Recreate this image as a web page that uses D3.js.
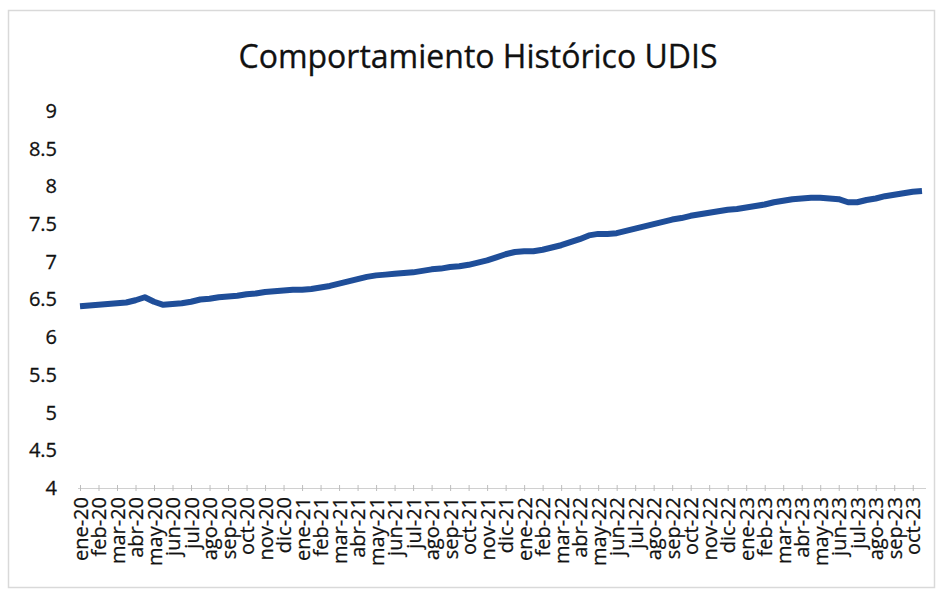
<!DOCTYPE html>
<html>
<head>
<meta charset="utf-8">
<script src="https://cdn.jsdelivr.net/npm/d3@7"></script>
<style>
  body { margin: 0; background: #fff; }
  text { font-family: "Open Sans", sans-serif; }
</style>
</head>
<body>
<div id="chart"></div>
<script>
// etiquetas del eje x (una por mes)
var meses = ["ene-20","feb-20","mar-20","abr-20","may-20","jun-20","jul-20","ago-20","sep-20","oct-20","nov-20","dic-20",
  "ene-21","feb-21","mar-21","abr-21","may-21","jun-21","jul-21","ago-21","sep-21","oct-21","nov-21","dic-21",
  "ene-22","feb-22","mar-22","abr-22","may-22","jun-22","jul-22","ago-22","sep-22","oct-22","nov-22","dic-22",
  "ene-23","feb-23","mar-23","abr-23","may-23","jun-23","jul-23","ago-23","sep-23","oct-23"];

// valor UDI quincenal (2 por mes)
var udis = [
  6.41, 6.42, 6.43, 6.44, 6.45, 6.46, 6.49, 6.53, 6.47, 6.43, 6.44, 6.45,
  6.47, 6.50, 6.51, 6.53, 6.54, 6.55, 6.57, 6.58, 6.60, 6.61, 6.62, 6.63,
  6.63, 6.64, 6.66, 6.68, 6.71, 6.74, 6.77, 6.80, 6.82, 6.83, 6.84, 6.85,
  6.86, 6.88, 6.90, 6.91, 6.93, 6.94, 6.96, 6.99, 7.02, 7.06, 7.10, 7.13,
  7.14, 7.14, 7.16, 7.19, 7.22, 7.26, 7.30, 7.35, 7.37, 7.37, 7.38, 7.41,
  7.44, 7.47, 7.50, 7.53, 7.56, 7.58, 7.61, 7.63, 7.65, 7.67, 7.69, 7.70,
  7.72, 7.74, 7.76, 7.79, 7.81, 7.83, 7.84, 7.85, 7.85, 7.84, 7.83, 7.79,
  7.79, 7.82, 7.84, 7.87, 7.89, 7.91, 7.93, 7.94
];

// ticks del eje y
var yTicks = [4, 4.5, 5, 5.5, 6, 6.5, 7, 7.5, 8, 8.5, 9];

var titulo = "Comportamiento Histórico UDIS";

var svgWidth = 941;
var svgHeight = 593;

var svg = d3.select("#chart")
  .append("svg")
  .attr("width", svgWidth)
  .attr("height", svgHeight);

// marco del grafico
svg.append("rect")
  .attr("x", 8.5)
  .attr("y", 10.5)
  .attr("width", 926)
  .attr("height", 577)
  .attr("fill", "#fff")
  .attr("stroke", "#d9d9d9")
  .attr("stroke-width", 1.5);

// titulo
svg.append("text")
  .attr("x", 478)
  .attr("y", 68)
  .attr("text-anchor", "middle")
  .attr("font-size", 32)
  .attr("fill", "#111")
  .attr("stroke", "#111")
  .attr("stroke-width", 0.3)
  .text(titulo);

// escalas
var xScale = d3.scaleLinear()
  .domain([0, (udis.length - 1) / 2])
  .range([80, 922]);

var yScale = d3.scaleLinear()
  .domain([4, 9])
  .range([488, 111]);

// eje y (solo etiquetas)
var yAxis = d3.axisLeft(yScale)
  .tickValues(yTicks)
  .tickSize(0)
  .tickPadding(0)
  .tickFormat(d => String(d));

svg.append("g")
  .attr("transform", "translate(57,0)")
  .call(yAxis)
  .call(g => g.select(".domain").remove())
  .selectAll("text")
  .attr("font-family", "Open Sans")
  .attr("font-size", 20)
  .attr("fill", "#111")
  .attr("stroke", "#111")
  .attr("stroke-width", 0.3);

// eje x
var xAxis = d3.axisBottom(xScale)
  .tickValues(d3.range(meses.length))
  .tickSize(5)
  .tickPadding(0)
  .tickFormat(i => meses[i]);

var xG = svg.append("g")
  .attr("transform", "translate(0,488)")
  .call(xAxis);

xG.select(".domain")
  .attr("stroke", "#d0d0d0")
  .attr("d", "M78,0.5H926");

xG.selectAll(".tick line")
  .attr("stroke", "#bdbdbd")
  .attr("y1", -3)
  .attr("y2", 3);

xG.selectAll(".tick text")
  .attr("font-family", "Open Sans")
  .attr("font-size", 20)
  .attr("fill", "#111")
  .attr("stroke", "#111")
  .attr("stroke-width", 0.25)
  .attr("text-anchor", "end")
  .attr("transform", "rotate(-90)")
  .attr("x", -9)
  .attr("y", 0)
  .attr("dy", "0.35em");

// linea UDIS
var line = d3.line()
  .x((d, i) => xScale(i / 2))
  .y(d => yScale(d))
  .curve(d3.curveLinear);

svg.append("path")
  .datum(udis)
  .attr("d", line)
  .attr("fill", "none")
  .attr("stroke", "#1f4e99")
  .attr("stroke-width", 6)
  .attr("stroke-linejoin", "round")
  .attr("stroke-linecap", "butt");
</script>
</body>
</html>
